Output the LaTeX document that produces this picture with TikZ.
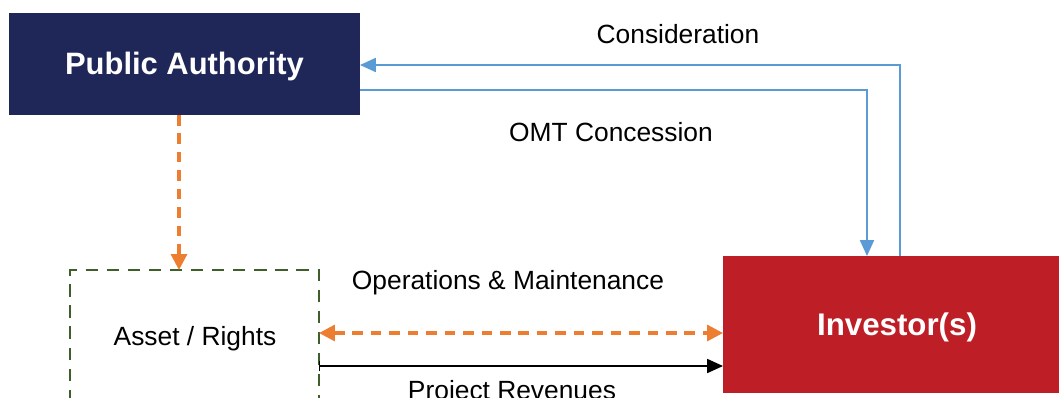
\documentclass[tikz,border=0pt]{standalone}
\usepackage{fontspec}
\setmainfont{Liberation Sans}
\usetikzlibrary{arrows.meta}
\definecolor{navy}{HTML}{1F2759}
\definecolor{invred}{HTML}{BE1E25}
\definecolor{lblue}{HTML}{5B9BD5}
\definecolor{orng}{HTML}{ED7D31}
\definecolor{dgreen}{HTML}{3E5E2A}
\tikzset{ortip/.tip={Triangle[length=9pt,width=9pt]}}
\begin{document}
\begin{tikzpicture}[x=0.02cm,y=-0.02cm,
  lbl/.style={font=\fontsize{15}{18}\selectfont, text=black, inner sep=0},
  bluearr/.style={draw=lblue, line width=0.9pt, -{Triangle[length=9pt,width=8pt]}},
  ordash/.style={draw=orng, line width=1.9pt, dash pattern=on 6pt off 4.5pt},
  ]
\useasboundingbox (0,0) rectangle (1059,397);
% boxes
\fill[navy] (9,13) rectangle (360,115);
\node[font=\fontsize{17.6}{20}\selectfont\bfseries, text=white] (pa) at (184.5,66) {Public Authority};
\coordinate (paR1) at (360,65);
\coordinate (paR2) at (360,90);
\coordinate (paB) at (179,115);
\fill[invred] (723,256) rectangle (1059,393);
\node[font=\fontsize{17.8}{20}\selectfont\bfseries, text=white] (inv) at (897,327) {Investor(s)};
\coordinate (invT1) at (867,256);
\coordinate (invT2) at (900,256);
\coordinate (invL1) at (723,333);
\coordinate (invL2) at (723,366);
\draw[dgreen, line width=1.5pt, dash pattern=on 7pt off 5pt] (70,402) -- (70,270) -- (319,270) -- (319,402);
\node[lbl] (asset) at (195,339) {Asset / Rights};
\coordinate (aT) at (179,270);
\coordinate (aR1) at (319,333);
\coordinate (aR2) at (319,366);
% connectors
\draw[bluearr] (invT2) -- (900,65) -- (paR1);
\draw[bluearr] (paR2) -- (867,90) -- (invT1);
\draw[ordash, -ortip] (paB) -- (aT);
\draw[ordash, ortip-ortip] (aR1) -- (invL1);
\draw[black, line width=0.8pt, {Bar[width=6pt]}-{Triangle[length=9pt,width=8pt]}] (aR2) -- (invL2);
% labels
\node[lbl] (l1) at (678,34) {Consideration};
\node[lbl] (l2) at (611,132) {OMT Concession};
\node[lbl] (l3) at (508,283) {Operations \& Maintenance};
\node[lbl] (l4) at (512,393) {Project Revenues};
\end{tikzpicture}
\end{document}
